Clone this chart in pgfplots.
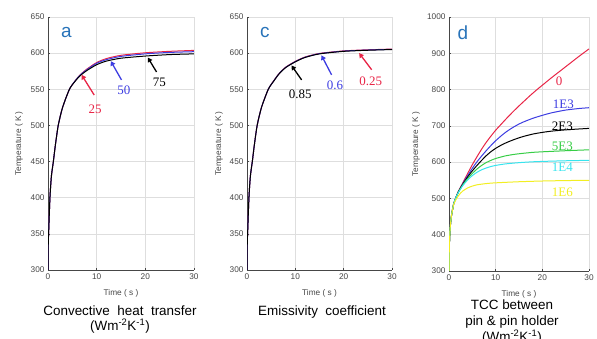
\documentclass[border=0pt]{standalone}
\usepackage{fontspec}
\setmainfont{Liberation Sans}
\newfontfamily\numserif{Liberation Serif}
\usepackage{pgfplots}
\pgfplotsset{compat=1.18}
\usetikzlibrary{arrows.meta}

\definecolor{gridc}{RGB}{222,222,222}
\definecolor{tickc}{RGB}{70,70,70}
\definecolor{letterc}{RGB}{40,115,185}
\definecolor{cred}{RGB}{232,36,70}
\definecolor{cblue}{RGB}{60,60,225}
\definecolor{cgreen}{RGB}{55,205,70}
\definecolor{ccyan}{RGB}{55,228,238}
\definecolor{cyellow}{RGB}{242,238,35}

\pgfplotsset{
  base/.style={
    scale only axis,
    anchor=south west,
    xmin=0, xmax=30, xtick={0,10,20,30},
    grid=major,
    major grid style={gridc, line width=0.6bp},
    axis x line*=bottom, axis y line*=left,
    axis line style={tickc, line width=0.8bp, -},
    tick style={tickc, line width=0.5bp},
    tick align=inside, major tick length=2bp,
    ticklabel style={font=\fontsize{8.3}{9}\selectfont, text=tickc},
    /pgf/number format/assume math mode=true,
    /pgf/number format/1000 sep={},
    xlabel={Time ( s )}, ylabel={Temperature ( K )},
    label style={font=\fontsize{8.3}{9}\selectfont, text=tickc},
    xlabel style={at={(axis description cs:0.5,-0.092)}, anchor=center},
    every axis plot/.append style={line width=1bp, no markers, smooth, tension=0.4},
  },
}
\tikzset{
  letter/.style={font=\fontsize{19}{19}\selectfont, text=letterc},
  ann/.style={font=\numserif\fontsize{13}{13}\selectfont},
  arr/.style={line width=1.3bp, -{Triangle[length=4.5bp,width=5bp]}},
}

\begin{document}
\begin{tikzpicture}
\path[use as bounding box] (0bp,0bp) rectangle (597bp,339bp);

% ---------------- panel a
\begin{axis}[base, at={(48bp,69bp)}, width=146bp, height=253bp,
  ymin=300, ymax=650, ytick={300,350,...,650},
  ylabel style={at={(axis description cs:-0.199,0.5)}, anchor=center}]
\addplot[cred] coordinates {(0,300) (0.05,335) (0.15,355) (0.4,400) (0.7,430) (1.1,450) (1.5,472) (2.1,500) (3,525) (4.4,550) (5.5,561) (6.6,570) (8,578) (10,587) (12,592.5) (15,597) (20,600.5) (25,602.5) (30,603.8)};
\addplot[cblue] coordinates {(0,300) (0.05,335) (0.15,355) (0.4,400) (0.7,430) (1.1,450) (1.5,472) (2.1,500) (3,525) (4.4,550) (5.5,561) (6.6,569.6) (8,577.2) (10,586) (12,591) (15,595.5) (20,599) (25,601) (30,602)};
\addplot[black] coordinates {(0,300) (0.05,335) (0.15,355) (0.4,400) (0.7,430) (1.1,450) (1.5,472) (2.1,500) (3,525) (4.4,550) (5.5,560.5) (6.6,568.8) (8,576) (10,584) (12,589) (15,593) (20,596) (25,598) (30,599)};
\node[letter] at (axis cs:3.8,628) {a};
\draw[arr, cred] (axis cs:9.5,542) -- (axis cs:6.9,570);
\node[ann, text=cred] at (axis cs:9.7,522) {25};
\draw[arr, cblue] (axis cs:15.1,563) -- (axis cs:12.9,589);
\node[ann, text=cblue] at (axis cs:15.6,548) {50};
\draw[arr, black] (axis cs:22.3,574) -- (axis cs:20.5,594);
\node[ann, text=black] at (axis cs:22.9,560) {75};
\end{axis}

% ---------------- panel c
\begin{axis}[base, at={(247bp,69bp)}, width=145bp, height=253bp,
  ymin=300, ymax=650, ytick={300,350,...,650},
  ylabel style={at={(axis description cs:-0.193,0.5)}, anchor=center}]
\addplot[cred] coordinates {(0,300) (0.05,335) (0.15,355) (0.4,400) (0.7,430) (1.1,450) (1.5,472) (2.1,500) (3,525) (4.4,550) (5.5,561.5) (6.6,571.5) (8,580.6) (10,588.6) (12,594.6) (15,599.6) (20,603.1) (25,604.6) (30,605.6)};
\addplot[cblue] coordinates {(0,300) (0.05,335) (0.15,355) (0.4,400) (0.7,430) (1.1,450) (1.5,472) (2.1,500) (3,525) (4.4,550) (5.5,561.3) (6.6,571.3) (8,580.3) (10,588.3) (12,594.3) (15,599.3) (20,602.8) (25,604.3) (30,605.3)};
\addplot[black] coordinates {(0,300) (0.05,335) (0.15,355) (0.4,400) (0.7,430) (1.1,450) (1.5,472) (2.1,500) (3,525) (4.4,550) (5.5,561) (6.6,571) (8,580) (10,588) (12,594) (15,599) (20,602.5) (25,604) (30,605)};
\node[letter] at (axis cs:3.7,629) {c};
\draw[arr, black] (axis cs:11.3,563) -- (axis cs:9.2,583);
\node[ann, text=black] at (axis cs:11.0,543) {0.85};
\draw[arr, cblue] (axis cs:17.5,570) -- (axis cs:15.4,597);
\node[ann, text=cblue] at (axis cs:18.2,555) {0.6};
\draw[arr, cred] (axis cs:25.8,577) -- (axis cs:23.2,600);
\node[ann, text=cred] at (axis cs:25.6,561.5) {0.25};
\end{axis}

% ---------------- panel d
\begin{axis}[base, at={(449bp,68bp)}, width=140bp, height=254bp,
  ymin=300, ymax=1000, ytick={300,400,...,1000},
  ylabel style={at={(axis description cs:-0.236,0.5)}, anchor=center}]
\addplot[cred] coordinates {(0,300) (0.05,350) (0.1,380) (0.25,418) (0.5,450) (1,485) (1.5,503) (2,519) (3,544) (4,569) (5,593) (6,615) (7,636) (8,655) (9,672) (10,688) (11,702) (12,716) (13,729.5) (14,742.5) (15,755) (16,767) (17,779) (18,790.5) (19,801.5) (20,812) (22,833) (24,853) (26,873) (28,893) (30,912)};
\addplot[cblue] coordinates {(0,300) (0.05,350) (0.1,380) (0.25,418) (0.5,450) (1,485) (1.5,503) (2,518) (3,542) (4,563) (5,583) (6,601) (7,617) (8,632) (9,646) (10,659) (11,670.5) (12,681) (13,690) (14,698) (15,705) (16,711) (18,721) (20,729) (22,736) (25,743.5) (28,748) (30,750)};
\addplot[black] coordinates {(0,300) (0.05,350) (0.1,380) (0.25,418) (0.5,450) (1,485) (1.5,503) (2,518) (3,540) (4,559) (5,576) (6,591) (7,605) (8,618) (9,629) (10,638) (11,645.5) (12,652) (13,657.5) (14,662.5) (15,667) (16,671) (18,677.5) (20,682) (22,685.5) (25,689) (28,691.5) (30,693)};
\addplot[cgreen] coordinates {(0,300) (0.05,350) (0.1,380) (0.25,418) (0.5,450) (1,485) (1.5,503) (2,517) (3,538) (4,555) (5,569) (6,581) (7,591) (8,599) (9,605) (10,610) (12,617) (14,621.5) (16,624.5) (18,627) (20,628.5) (25,631.5) (30,634)};
\addplot[ccyan] coordinates {(0,300) (0.05,350) (0.1,380) (0.25,418) (0.5,450) (1,485) (1.5,503) (2,516) (3,536) (4,551) (5,563) (6,572) (7,579) (8,584) (9,588) (10,591) (12,595) (14,597.5) (16,599.5) (18,601) (20,602) (25,603.8) (30,605)};
\addplot[cyellow] coordinates {(0,300) (0.05,350) (0.1,380) (0.25,418) (0.5,450) (1,483) (1.5,497) (2,507) (2.5,515) (3,521) (4,529) (5,534) (6,537.5) (8,541) (10,543) (15,546) (20,548) (25,549.2) (30,550)};
\node[letter] at (axis cs:3.0,958) {d};
\node[ann, text=cred] at (axis cs:23.6,824) {0};
\node[ann, text=cblue] at (axis cs:24.5,759) {1E3};
\node[ann, text=black] at (axis cs:24.3,700) {2E3};
\node[ann, text=cgreen] at (axis cs:24.3,645) {5E3};
\node[ann, text=ccyan] at (axis cs:24.3,587) {1E4};
\node[ann, text=cyellow] at (axis cs:24.3,518) {1E6};
\end{axis}

% ---------------- captions
\node[font=\fontsize{13.5}{15}\selectfont, align=center] at (120bp,19.5bp)
  {Convective\ \ heat\ \ transfer\\(Wm\textsuperscript{-2}K\textsuperscript{-1})};
\node[font=\fontsize{13.5}{15}\selectfont, align=center] at (322bp,27bp)
  {Emissivity\ \ coefficient};
\node[font=\fontsize{13.5}{16}\selectfont, align=center] at (512bp,17bp)
  {TCC between\\pin \& pin holder\\(Wm\textsuperscript{-2}K\textsuperscript{-1})};
\end{tikzpicture}
\end{document}
